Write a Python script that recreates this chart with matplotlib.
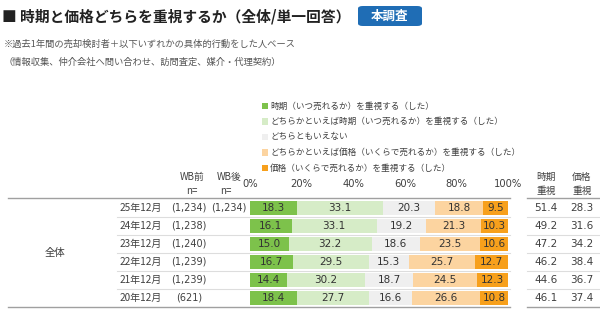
import numpy as np
import matplotlib
matplotlib.use("Agg")
import matplotlib.pyplot as plt
from matplotlib.patches import FancyBboxPatch, Rectangle
from matplotlib.lines import Line2D

plt.rcParams['font.family'] = ['Noto Sans CJK JP', 'DejaVu Sans']

# data
periods = ["25年12月", "24年12月", "23年12月", "22年12月", "21年12月", "20年12月"]
n_before = ["(1,234)", "(1,238)", "(1,240)", "(1,239)", "(1,239)", "(621)"]
n_after = ["(1,234)", "", "", "", "", ""]
series_names = [
    "時期（いつ売れるか）を重視する（した）",
    "どちらかといえば時期（いつ売れるか）を重視する（した）",
    "どちらともいえない",
    "どちらかといえば価格（いくらで売れるか）を重視する（した）",
    "価格（いくらで売れるか）を重視する（した）",
]
time_strong = [18.3, 16.1, 15.0, 16.7, 14.4, 18.4]
time_weak = [33.1, 33.1, 32.2, 29.5, 30.2, 27.7]
neutral = [20.3, 19.2, 18.6, 15.3, 18.7, 16.6]
price_weak = [18.8, 21.3, 23.5, 25.7, 24.5, 26.6]
price_strong = [9.5, 10.3, 10.6, 12.7, 12.3, 10.8]
time_total = [51.4, 49.2, 47.2, 46.2, 44.6, 46.1]
price_total = [28.3, 31.6, 34.2, 38.4, 36.7, 37.4]
ticks = [0, 20, 40, 60, 80, 100]

colors = ["#7dc24b", "#d6ecc7", "#efefef", "#fcd4a0", "#f7a01c"]
text_col = "#404040"

W, H = 600, 310
fig = plt.figure(figsize=(6, 3.1), dpi=100)


def px(x, y):
    return x / W, 1 - y / H


def ftext(x, y, s, **kw):
    kw.setdefault("color", text_col)
    kw.setdefault("va", "center")
    fig.text(*px(x, y), s, **kw)


def hline(x0, x1, y, color="#a0a0a0", lw=1.0):
    fig.add_artist(Line2D([x0 / W, x1 / W], [1 - y / H, 1 - y / H],
                          transform=fig.transFigure, color=color, lw=lw))


# title and badge
ftext(2, 16, "■ 時期と価格どちらを重視するか（全体/単一回答）", fontsize=10.6,
      fontweight="bold", color="#222222")
badge = FancyBboxPatch((358 / W, 1 - 26 / H), 64 / W, 20 / H,
                       boxstyle="round,pad=0,rounding_size=0.008",
                       transform=fig.transFigure, fc="#1f6db5", ec="none")
fig.add_artist(badge)
ftext(390, 16, "本調査", fontsize=9, fontweight="bold", color="white", ha="center")

ftext(4, 44, "※過去1年間の売却検討者＋以下いずれかの具体的行動をした人ベース",
      fontsize=6.7, color="#555555")
ftext(4, 62, "（情報収集、仲介会社へ問い合わせ、訪問査定、媒介・代理契約）",
      fontsize=6.7, color="#555555")

# legend
for i, (name, c) in enumerate(zip(series_names, colors)):
    y = 106 + i * 15.5
    fig.add_artist(Rectangle((262 / W, 1 - (y + 3) / H), 6 / W, 6 / H,
                             transform=fig.transFigure, fc=c, ec="none"))
    ftext(270, y, name, fontsize=6.2)

# column headers
ftext(192, 177, "WB前", fontsize=7, ha="center")
ftext(192, 191, "n=", fontsize=7, ha="center")
ftext(229, 177, "WB後", fontsize=7, ha="center")
ftext(226, 191, "n=", fontsize=7, ha="center")
ftext(546, 177, "時期", fontsize=7, ha="center")
ftext(546, 191, "重視", fontsize=7, ha="center")
ftext(582, 177, "価格", fontsize=7, ha="center")
ftext(582, 191, "重視", fontsize=7, ha="center")

# bar axes
x0, x1 = 250, 508
top, row_h = 199, 18
ax = fig.add_axes([x0 / W, 1 - (top + row_h * 6) / H, (x1 - x0) / W, row_h * 6 / H])
ax.set_xlim(0, 100)
ax.set_ylim(5.5, -0.5)
ax.axis("off")

y = np.arange(len(periods))
left = np.zeros(len(periods))
for vals, c in zip([time_strong, time_weak, neutral, price_weak, price_strong], colors):
    vals = np.array(vals)
    ax.barh(y, vals, left=left, height=0.78, color=c, edgecolor="none")
    for yi, l, v in zip(y, left, vals):
        ax.text(l + v / 2, yi, f"{v:.1f}", ha="center", va="center",
                fontsize=7.5, color="#333333", family="DejaVu Sans")
    left += vals

# tick labels above the bars
for t in ticks:
    ftext(x0 + (x1 - x0) * t / 100, 184, f"{t}%", fontsize=7.2, ha="center",
          family="DejaVu Sans")

# row labels and totals
for i in range(len(periods)):
    yc = top + row_h * i + row_h / 2
    ftext(120, yc, periods[i], fontsize=7.2)
    ftext(189, yc, n_before[i], fontsize=7, ha="center", family="DejaVu Sans")
    ftext(229, yc, n_after[i], fontsize=7, ha="center", family="DejaVu Sans")
    ftext(546, yc, f"{time_total[i]:.1f}", fontsize=7.5, ha="center",
          family="DejaVu Sans")
    ftext(582, yc, f"{price_total[i]:.1f}", fontsize=7.5, ha="center",
          family="DejaVu Sans")
ftext(55, top + row_h * 3, "全体", fontsize=7.5, ha="center")

# table lines
hline(8, 510, top - 1)
hline(527, 600, top - 1)
for i in range(1, len(periods)):
    yl = top + row_h * i
    hline(117, 510, yl, color="#dddddd", lw=0.8)
    hline(527, 600, yl, color="#dddddd", lw=0.8)
hline(8, 510, top + row_h * 6)
hline(527, 600, top + row_h * 6)

fig.savefig("out.png", dpi=100, facecolor="white")
